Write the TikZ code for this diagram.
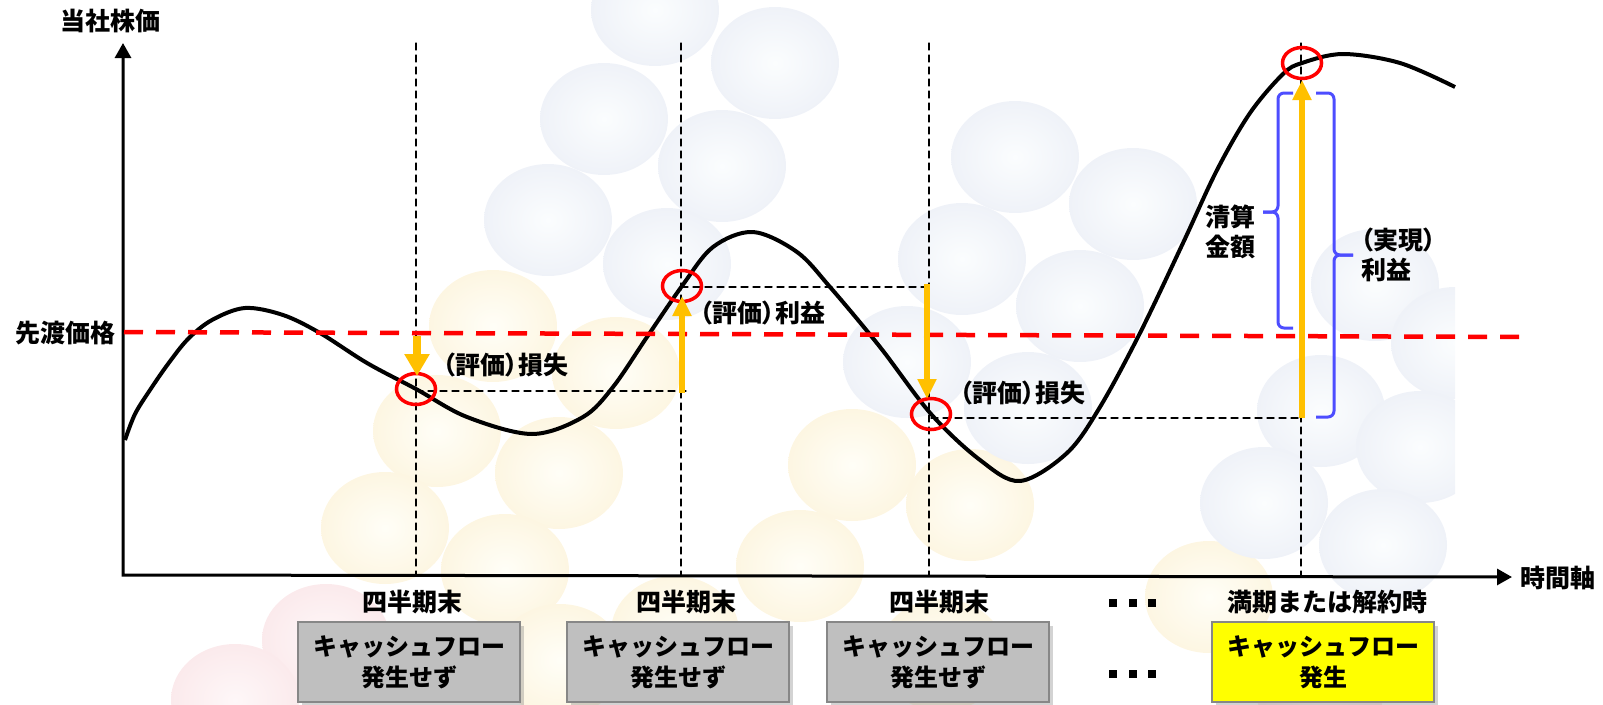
\documentclass[tikz,border=0pt]{standalone}
\usepackage{fontspec}
\setmainfont{Noto Sans CJK JP}
\newfontfamily\pfont{Noto Sans CJK JP}[RawFeature=+palt]
\usepackage{tikz,tkz-euclide}
\usetikzlibrary{arrows.meta,shadows}

\definecolor{gain}{RGB}{255,192,0}
\definecolor{brc}{RGB}{77,77,255}
\definecolor{boxgray}{RGB}{191,191,191}
\definecolor{boxline}{RGB}{135,135,135}
\definecolor{cfyellow}{RGB}{255,255,0}
\definecolor{bluein}{RGB}{251,253,254}
\definecolor{blueout}{RGB}{239,242,248}
\definecolor{yelin}{RGB}{255,254,247}
\definecolor{yelout}{RGB}{253,246,226}
\definecolor{pinkin}{RGB}{254,247,248}
\definecolor{pinkout}{RGB}{251,234,236}

\tikzset{
	bubblue/.style={inner color=bluein, outer color=blueout},
	bubyel/.style={inner color=yelin, outer color=yelout},
	bubpink/.style={inner color=pinkin, outer color=pinkout},
	axis/.style={line width=3pt, {Triangle[width=16pt,length=15pt]}-{Triangle[width=16pt,length=15pt]}},
	guide/.style={dash pattern=on 7pt off 5pt, line width=1.3pt},
	strike/.style={red, dash pattern=on 19pt off 13pt, line width=4.5pt},
	ring/.style={red, line width=3.5pt},
	move/.style={gain, line width=6pt, -{Triangle[width=18pt,length=20pt]}},
	bracket/.style={brc, line width=3pt, rounded corners=6pt},
	lbl/.style={inner sep=0pt, font=\fontsize{25}{30}\selectfont\bfseries},
	plbl/.style={inner sep=0pt, font=\fontsize{25}{30}\selectfont\pfont\bfseries},
	cfbox/.style={draw=boxline, line width=1.5pt, minimum width=222pt, minimum height=80pt,
		inner sep=0pt, align=center, font=\fontsize{24}{31}\selectfont\bfseries,
		drop shadow={shadow xshift=4pt, shadow yshift=-4pt, opacity=.35}}
}

\begin{document}
\begin{tikzpicture}[x=1pt,y=-1pt]
			\useasboundingbox (0,0) rectangle (1603,704);
			\begin{scope}
				\clip (0,0) rectangle (1455,704);
				\foreach \x/\y in {493/326,616/373,437/431,559/473,385/528,505/570,852/465,970/505,800/566,675/632,1209/597,942/655,560/660}
					\shade[bubyel] (\x,\y) ellipse [x radius=64, y radius=56];
				\foreach \x/\y in {326/640,235/700,1320/690}
					\shade[bubpink] (\x,\y) ellipse [x radius=64, y radius=56];
				\foreach \x/\y in {655/10,775/63,604/119,722/166,548/220,667/264,1015/157,1133/204,962/259,1080/306,907/362,1028/408,1375/285,1321/411,1455/343,1420/447,1264/503,1383/545}
					\shade[bubblue] (\x,\y) ellipse [x radius=64, y radius=56];
			\end{scope}

			\tkzDefPoint(123,575){O}
			\tkzDefPoint(123,43){Y}
			\tkzDefPoint(1512,577){X}
			\tkzDefPoint(124,332){F}
			\tkzDefPoint(1530,337){G}
			\tkzDefPoint(416,389){Q1}
			\tkzDefPoint(682,286){Q2}
			\tkzDefPoint(931,414){Q3}
			\tkzDefPoint(1302,63){Q4}
			\tkzDefPoint(416,43){T1}
			\tkzDefPoint(681,43){T2}
			\tkzDefPoint(929,43){T3}
			\tkzDefPoint(1301,43){T4}
			\tkzDefPoint(416,575){B1}
			\tkzDefPoint(681,575){B2}
			\tkzDefPoint(929,575){B3}
			\tkzDefPoint(1301,576){B4}
			\tkzDefPoint(416,391){H1}
			\tkzDefPoint(686,391){K1}
			\tkzDefPoint(681,287){H2}
			\tkzDefPoint(927,287){K2}
			\tkzDefPoint(931,418){H3}
			\tkzDefPoint(1302,418){K3}

			\tkzDrawSegments[guide](T1,B1 T2,B2 T3,B3 T4,B4)
			\tkzDrawSegments[guide](H1,K1 H2,K2 H3,K3)
			\draw[axis] (Y) -- (O) -- (X);
			\draw[line width=4pt, line join=round] plot[smooth, tension=.55] coordinates {
				(125,440) (135,414) (150,390) (168,364) (188,339) (212,320) (245,308) (283,315)
				(320,333) (367,363) (416,389) (467,417) (532,434) (583,417) (613,387) (647,337)
				(682,286) (713,247) (753,232) (797,252) (830,287) (880,347) (931,414) (980,460)
				(1020,481) (1067,453) (1100,407) (1140,333) (1183,243) (1217,170) (1250,113)
				(1283,74) (1302,63) (1343,54) (1400,63) (1455,87)};
			\draw[strike] (F) -- (G);
			\foreach \q in {Q1,Q2,Q3,Q4}
				\draw[ring] (\q) ellipse [x radius=19.5, y radius=15.5];

			\draw[move, line width=8pt, -{Triangle[width=24pt,length=22pt]}] (417,336) -- (417,376);
			\draw[move] (682,393) -- (682,296);
			\draw[move] (927,284) -- (927,399);
			\draw[move] (1302,418) -- (1302,80);

			\draw[bracket] (1293,93) -- (1278,93) -- (1278,212) -- (1263,212);
			\draw[bracket] (1263,212) -- (1278,212) -- (1278,328) -- (1293,328);
			\draw[bracket] (1316,93) -- (1334,93) -- (1334,255) -- (1353,255);
			\draw[bracket] (1353,255) -- (1334,255) -- (1334,417) -- (1316,417);

			\node[lbl] (ylab) at (110,21) {当社株価};
			\node[lbl] (fwd) at (65,333) {先渡価格};
			\node[lbl] (xlab) at (1558,578) {時間軸};
			\node[plbl, anchor=west] (loss1) at (443,365) {（評価）損失};
			\node[plbl, anchor=west] (gain1) at (700,313) {（評価）利益};
			\node[plbl, anchor=west] (loss2) at (960,393) {（評価）損失};
			\node[lbl, align=center] (settle) at (1230,232) {清算\\金額};
			\node[plbl, align=left, anchor=west] (real) at (1361,255) {（実現）\\利益};

			\node[lbl] (qe1) at (412,602) {四半期末};
			\node[lbl] (qe2) at (686,602) {四半期末};
			\node[lbl] (qe3) at (939,602) {四半期末};
			\node[lbl] (mat) at (1327,602) {満期または解約時};
			\foreach \y in {603,674}
				\foreach \x in {1113,1133,1152}
					\fill (\x-4,\y-4) rectangle ++(8,8);

			\node[cfbox, fill=boxgray] (cf1) at (409,662) {キャッシュフロー\\発生せず};
			\node[cfbox, fill=boxgray] (cf2) at (678,662) {キャッシュフロー\\発生せず};
			\node[cfbox, fill=boxgray] (cf3) at (938,662) {キャッシュフロー\\発生せず};
			\node[cfbox, fill=cfyellow] (cf4) at (1323,662) {キャッシュフロー\\発生};
\end{tikzpicture}
\end{document}
